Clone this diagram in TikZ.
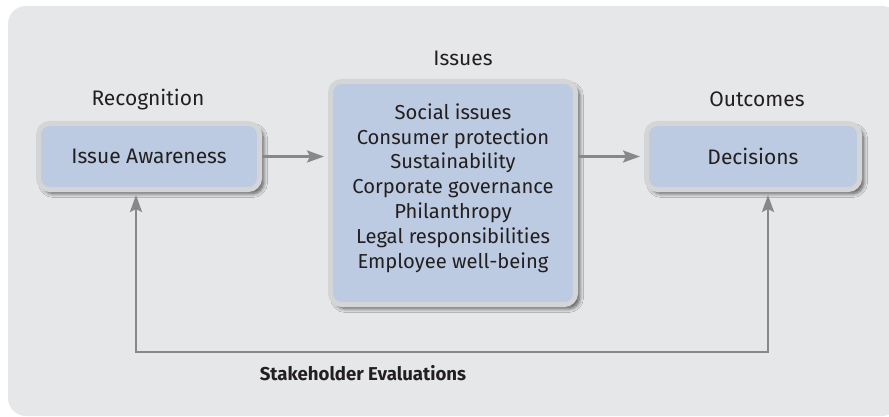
\documentclass[tikz,border=0pt]{standalone}
\usepackage{fontspec}
\setmainfont{Fira Sans}
\usetikzlibrary{arrows.meta, positioning, shadows.blur}

\definecolor{panelgray}{HTML}{E6E7E9}
\definecolor{boxblue}{HTML}{BCCBE1}
\definecolor{boxrim}{HTML}{D4D5D7}
\definecolor{linegray}{HTML}{87888A}
\definecolor{inkgray}{HTML}{231F20}

\begin{document}
\begin{tikzpicture}[
        x=1pt, y=-1pt,
        font=\fontsize{21}{24.8}\selectfont, text=inkgray,
        box/.style={rectangle, rounded corners=11pt, fill=boxblue, draw=boxrim,
            line width=5pt, align=center, inner sep=0pt,
            blur shadow={shadow xshift=4pt, shadow yshift=-4pt, shadow blur steps=8,
                shadow blur radius=4pt, shadow opacity=65}},
        heading/.style={inner sep=0pt},
        flow/.style={draw=linegray, line width=2.4pt,
            -{Stealth[length=17pt, width=12pt, inset=3pt]}}
    ]
    \useasboundingbox (0,0) rectangle (889,417);
    % grey panel behind everything
    \fill[panelgray, rounded corners=18pt] (8,6) rectangle (900,416);

    \node[box, minimum width=221pt, minimum height=66pt] (aware) at (149,156.5) {Issue Awareness};
    \node[box, minimum width=245pt, minimum height=223pt] (issues) at (453,193) {};
    \node[align=center, inner sep=0pt, font=\fontsize{20.2}{24.8}\selectfont] (issuelist) at (453,188) {
        Social issues\\
        Consumer protection\\
        Sustainability\\
        Corporate governance\\
        Philanthropy\\
        Legal responsibilities\\
        Employee well-being
    };
    \node[box, minimum width=213pt, minimum height=66pt] (decide) at (753,156.5) {Decisions};

    \node[heading] (recog) at (148,100) {Recognition};
    \node[heading] (issuehead) at (463,58) {Issues};
    \node[heading] (outcome) at (757,99) {Outcomes};

    \draw[flow, shorten >=4pt] (aware.east) -- (aware.east -| issues.west);
    \draw[flow, shorten >=4pt] (aware.east -| issues.east) -- (aware.east -| decide.west);

    % feedback loop underneath
    \coordinate (fbleft) at (136,352);
    \coordinate (fbright) at (768,352);
    \draw[flow, {Stealth[length=17pt, width=12pt, inset=3pt]}-{Stealth[length=17pt, width=12pt, inset=3pt]},
        shorten <=3pt, shorten >=3pt]
        (aware.south -| fbleft) -- (fbleft) -- (fbright) -- (decide.south -| fbright);
    \node[heading, font=\fontsize{18.6}{22}\selectfont\bfseries] (stake) at (363,373) {Stakeholder Evaluations};
\end{tikzpicture}
\end{document}
